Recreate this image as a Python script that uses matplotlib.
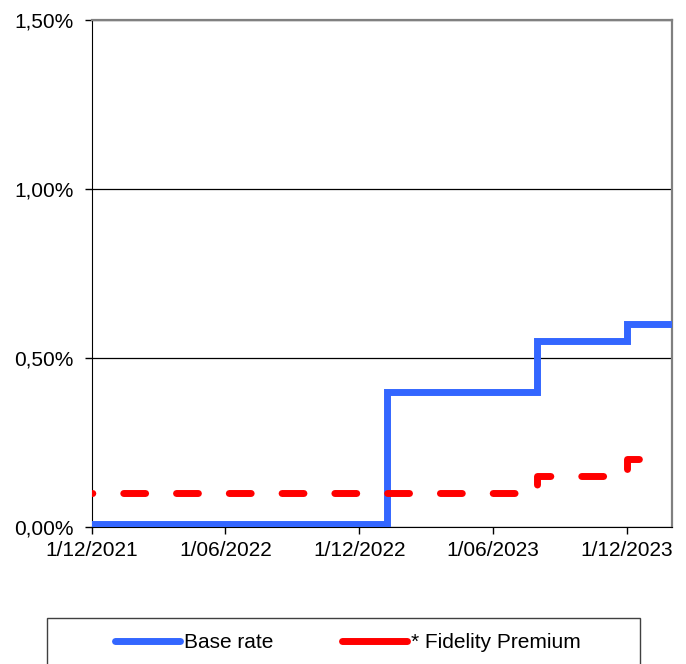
import matplotlib
matplotlib.use('Agg')
import matplotlib.pyplot as plt
from matplotlib.lines import Line2D
from matplotlib.patches import Rectangle
from matplotlib.ticker import FuncFormatter
import numpy as np

plt.rcParams['font.family'] = ['Liberation Sans', 'DejaVu Sans']

# step series (value holds from each date until the next)
base_dates = ['2021-12-01', '2023-01-08', '2023-08-01', '2023-12-01', '2024-02-01']
base_rate = [0.01, 0.40, 0.55, 0.60, 0.60]

prem_dates = ['2021-12-01', '2023-08-01', '2023-12-01', '2024-01-02']
premium = [0.10, 0.15, 0.20, 0.20]

tick_dates = ['2021-12-01', '2022-06-01', '2022-12-01', '2023-06-01', '2023-12-01']
tick_labels = ['1/12/2021', '1/06/2022', '1/12/2022', '1/06/2023', '1/12/2023']
y_ticks = [0.0, 0.5, 1.0, 1.5]

blue = '#3366ff'
red = '#ff0000'

fig = plt.figure(figsize=(6.86, 6.64), dpi=100)
ax = fig.add_axes([92/686, 1-527/664, 580/686, 507/664])

bd = np.array(base_dates, dtype='datetime64[D]')
pd_ = np.array(prem_dates, dtype='datetime64[D]')

ax.plot(bd, base_rate, drawstyle='steps-post', color=blue, lw=5,
        solid_joinstyle='miter', zorder=3)
ax.plot(pd_, premium, drawstyle='steps-post', color=red, lw=5,
        linestyle=(3.1, (3.15, 4.45)), dash_capstyle='round', zorder=4)

ax.set_xlim(np.datetime64('2021-12-01'), np.datetime64('2024-02-01'))
ax.set_ylim(0, 1.5)
ax.set_yticks(y_ticks)
ax.yaxis.set_major_formatter(FuncFormatter(lambda v, p: ('%.2f%%' % v).replace('.', ',')))
ax.set_xticks(np.array(tick_dates, dtype='datetime64[D]'))
ax.set_xticklabels(tick_labels)

ax.grid(axis='y', color='black', lw=0.9)
ax.set_axisbelow(True)
ax.tick_params(labelsize=15, length=5, width=1, color='black')
ax.tick_params(axis='y', pad=8)
ax.tick_params(axis='x', pad=5)

ax.spines['left'].set_color('black')
ax.spines['bottom'].set_color('black')
for s in ('top', 'right'):
    ax.spines[s].set_color('#808080')
    ax.spines[s].set_linewidth(1.6)

# legend box below the chart
fig.patches.append(Rectangle((47/686, -6/664), 593/686, 52/664, transform=fig.transFigure,
                             fill=False, edgecolor='#404040', lw=1.0))
handles = [Line2D([], [], color=blue, lw=5, solid_capstyle='round'),
           Line2D([], [], color=red, lw=5, solid_capstyle='round')]
fig.legend(handles, ['Base rate', '* Fidelity Premium'], loc='center',
           bbox_to_anchor=(348/686, 1-643/664), ncol=2, frameon=False,
           fontsize=15, handlelength=3.1, handletextpad=0.2, columnspacing=3.3)

fig.savefig('out.png', dpi=100)
